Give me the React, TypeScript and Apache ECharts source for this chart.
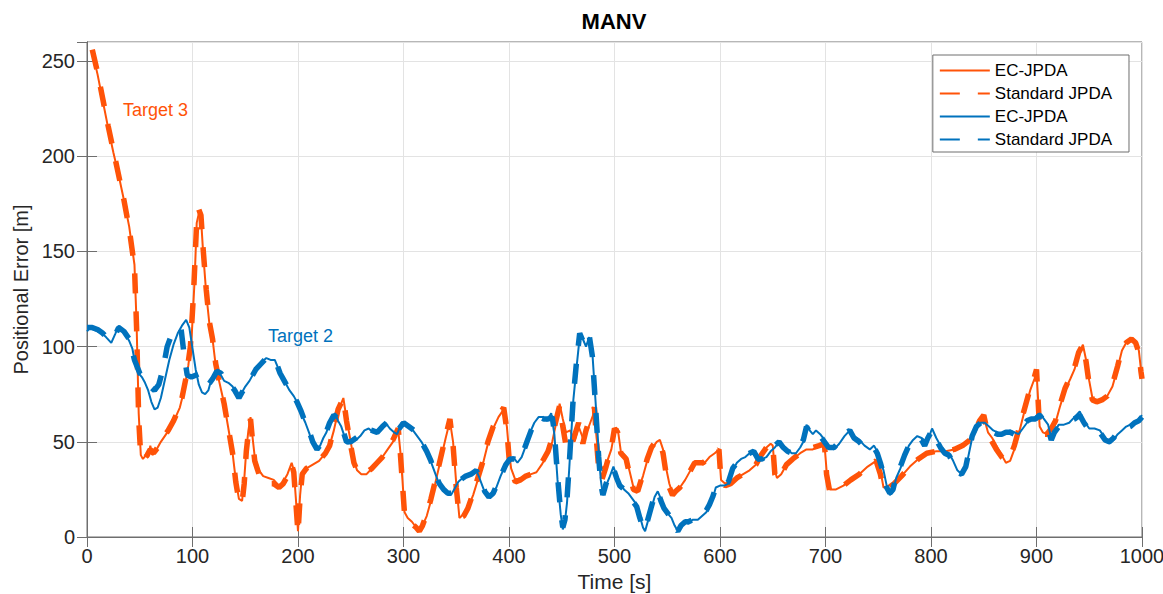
import React, { useEffect, useRef } from "react";
import * as echarts from "echarts";

// ---- Data (time [s], positional error [m]) ----
const target3Ec: [number, number][] = [
  [5, 255], [10, 243], [15, 229], [20, 215], [25, 202], [30, 190], [35, 177], [40, 163], [45, 143], [47, 112],
  [49, 65], [51, 43], [53, 41], [56, 43], [58, 42], [60, 48], [62, 43], [65, 45], [70, 50], [75, 54],
  [80, 58], [84, 63], [88, 68], [92, 77], [96, 90], [99, 103], [102, 135], [104, 165], [106, 170], [108, 168],
  [110, 150], [113, 128], [116, 112], [119, 104], [122, 90], [126, 80], [130, 70], [134, 57], [138, 44], [141, 30],
  [144, 20], [147, 19], [149, 30], [151, 46], [153, 56], [155, 63], [157, 52], [159, 42], [163, 35], [167, 32],
  [172, 31], [177, 30], [182, 27], [186, 29], [190, 33], [194, 39], [196, 35], [198, 20], [200, 3], [202, 22],
  [204, 34], [208, 36], [214, 38], [220, 40], [226, 44], [230, 48], [234, 56], [238, 66], [243, 73], [246, 62],
  [250, 50], [253, 40], [256, 35], [260, 33], [265, 33], [270, 36], [275, 39], [280, 42], [285, 46], [290, 50],
  [295, 56], [297, 45], [299, 30], [301, 13], [304, 10], [308, 8], [312, 5], [315, 3], [318, 6], [322, 11],
  [326, 19], [330, 28], [335, 40], [340, 52], [344, 61], [347, 50], [350, 28], [353, 10], [357, 12], [361, 15],
  [366, 22], [371, 31], [376, 40], [380, 49], [385, 57], [390, 63], [395, 67], [398, 58], [400, 45], [402, 36],
  [406, 30], [411, 31], [416, 32], [421, 33], [426, 34], [431, 38], [437, 44], [441, 50], [444, 58], [448, 70],
  [451, 62], [454, 55], [458, 56], [462, 50], [466, 58], [470, 52], [473, 54], [477, 60], [481, 66], [483, 52],
  [485, 42], [488, 36], [492, 38], [497, 46], [500, 55], [503, 57], [506, 45], [511, 42], [515, 33], [518, 26],
  [522, 24], [527, 32], [531, 40], [535, 46], [540, 50], [543, 51], [546, 46], [549, 36], [552, 28], [555, 23],
  [558, 24], [562, 26], [567, 30], [572, 35], [576, 39], [580, 39], [584, 38], [590, 42], [595, 44], [599, 46],
  [601, 30], [605, 28], [610, 29], [616, 31], [622, 33], [628, 35], [634, 38], [639, 43], [644, 47], [648, 49],
  [650, 48], [652, 35], [654, 31], [658, 33], [663, 38], [669, 41], [676, 44], [682, 46], [688, 46], [694, 48],
  [699, 49], [701, 35], [704, 25], [710, 25], [717, 27], [724, 30], [732, 33], [740, 37], [748, 40], [752, 35],
  [755, 26], [760, 27], [765, 28], [772, 32], [780, 37], [788, 41], [796, 44], [805, 45], [814, 45], [822, 46],
  [830, 48], [837, 51], [842, 55], [846, 60], [850, 63], [854, 55], [858, 52], [862, 48], [867, 43], [871, 39],
  [875, 40], [879, 46], [884, 56], [889, 67], [894, 77], [898, 83], [900, 87], [903, 58], [906, 55], [910, 54],
  [914, 57], [918, 60], [922, 68], [927, 77], [932, 83], [936, 88], [940, 96], [944, 101], [947, 93], [950, 82],
  [953, 73], [957, 72], [962, 72], [967, 74], [972, 79], [977, 89], [981, 98], [985, 102], [990, 103], [994, 102],
  [997, 98], [999, 88], [1000, 84],
];

const target3Std: [number, number][] = [
  [5, 256], [10, 244], [15, 230], [20, 216], [25, 203], [30, 190], [35, 177], [40, 162], [45, 142], [47, 110],
  [49, 62], [51, 42], [54, 41], [57, 43], [60, 46], [63, 44], [67, 47], [72, 52], [77, 56], [82, 61],
  [86, 66], [90, 73], [94, 84], [98, 100], [101, 128], [104, 166], [106, 172], [108, 169], [110, 152], [113, 130],
  [116, 113], [119, 104], [122, 91], [126, 80], [130, 70], [134, 57], [138, 44], [141, 29], [144, 19], [147, 18],
  [149, 28], [151, 45], [153, 55], [155, 62], [157, 50], [159, 40], [163, 33], [167, 29], [172, 28], [177, 28],
  [182, 26], [186, 28], [190, 32], [194, 38], [196, 34], [198, 18], [200, 2], [202, 21], [204, 33], [208, 36],
  [214, 38], [220, 40], [226, 44], [230, 48], [234, 57], [238, 67], [243, 73], [246, 61], [250, 48], [253, 39],
  [256, 35], [260, 33], [265, 34], [270, 36], [275, 39], [280, 42], [285, 46], [290, 51], [295, 57], [297, 44],
  [299, 28], [301, 12], [304, 9], [308, 7], [312, 5], [315, 3], [318, 6], [322, 12], [326, 20], [330, 29],
  [335, 41], [340, 53], [344, 62], [347, 48], [350, 26], [353, 10], [357, 11], [361, 15], [366, 23], [371, 32],
  [376, 41], [380, 50], [385, 58], [390, 64], [395, 68], [398, 56], [400, 42], [402, 34], [406, 29], [411, 30],
  [416, 32], [421, 33], [426, 35], [431, 39], [437, 45], [441, 52], [444, 60], [448, 69], [451, 58], [454, 48],
  [458, 46], [462, 53], [466, 60], [470, 49], [473, 56], [477, 63], [481, 68], [483, 50], [485, 36], [488, 30],
  [492, 37], [497, 47], [500, 57], [503, 55], [506, 44], [511, 41], [515, 31], [518, 25], [522, 24], [527, 33],
  [531, 41], [535, 47], [540, 51], [543, 50], [546, 44], [549, 33], [552, 26], [555, 22], [558, 24], [562, 26],
  [567, 30], [572, 35], [576, 39], [580, 39], [584, 39], [590, 42], [595, 44], [599, 46], [601, 29], [605, 27],
  [610, 28], [616, 31], [622, 33], [628, 35], [634, 38], [639, 43], [644, 47], [648, 49], [650, 48], [652, 33],
  [654, 30], [658, 33], [663, 38], [669, 41], [676, 44], [682, 46], [688, 47], [694, 48], [699, 49], [701, 33],
  [704, 24], [710, 25], [717, 27], [724, 30], [732, 33], [740, 37], [748, 40], [752, 33], [755, 25], [760, 26],
  [765, 28], [772, 32], [780, 37], [788, 41], [796, 44], [805, 45], [814, 45], [822, 46], [830, 48], [837, 51],
  [842, 56], [846, 61], [850, 64], [854, 54], [858, 50], [862, 46], [867, 42], [871, 40], [875, 42], [879, 48],
  [884, 58], [889, 68], [894, 78], [898, 84], [900, 88], [903, 56], [906, 54], [910, 54], [914, 57], [918, 61],
  [922, 69], [927, 78], [932, 84], [936, 89], [940, 97], [944, 101], [947, 92], [950, 80], [953, 72], [957, 71],
  [962, 72], [967, 74], [972, 80], [977, 90], [981, 99], [985, 102], [990, 104], [994, 102], [997, 97], [999, 87],
  [1000, 83],
];

const target2Ec: [number, number][] = [
  [0, 108], [3, 110], [6, 109], [10, 108], [14, 107], [18, 105], [23, 102], [27, 107], [30, 111], [33, 109],
  [36, 107], [40, 103], [43, 99], [46, 90], [49, 86], [52, 84], [55, 81], [58, 77], [61, 71], [64, 67],
  [67, 68], [70, 73], [74, 83], [78, 93], [82, 101], [86, 107], [90, 111], [94, 114], [97, 110], [100, 99],
  [103, 88], [106, 80], [109, 76], [112, 75], [115, 77], [118, 83], [121, 86], [124, 88], [127, 85], [130, 82],
  [134, 81], [138, 79], [141, 76], [144, 73], [147, 76], [150, 79], [154, 82], [158, 86], [162, 89], [166, 92],
  [170, 94], [174, 93], [178, 93], [181, 89], [184, 84], [188, 81], [192, 77], [196, 74], [200, 70], [203, 65],
  [207, 60], [211, 54], [214, 49], [218, 46], [221, 48], [224, 52], [227, 55], [230, 60], [233, 63], [235, 65],
  [238, 61], [241, 58], [244, 53], [247, 49], [251, 50], [255, 51], [259, 53], [263, 56], [267, 57], [271, 55],
  [275, 55], [279, 58], [283, 60], [287, 57], [291, 55], [294, 54], [298, 60], [301, 60], [305, 58], [309, 56],
  [313, 53], [317, 50], [321, 46], [325, 41], [329, 35], [333, 29], [337, 25], [341, 23], [345, 22], [348, 25],
  [352, 29], [356, 31], [361, 32], [365, 34], [369, 35], [372, 31], [376, 25], [380, 21], [384, 22], [388, 26],
  [392, 32], [396, 37], [400, 40], [404, 42], [408, 39], [412, 42], [416, 48], [420, 55], [424, 60], [428, 63],
  [432, 63], [436, 61], [440, 65], [443, 54], [446, 30], [449, 12], [451, 4], [453, 8], [455, 18], [457, 35],
  [459, 54], [461, 72], [464, 89], [467, 105], [470, 104], [473, 100], [476, 105], [479, 97], [481, 80], [483, 63],
  [485, 45], [487, 30], [489, 22], [492, 27], [495, 31], [499, 37], [502, 32], [505, 28], [509, 25], [513, 23],
  [517, 20], [521, 17], [524, 11], [527, 5], [529, 3], [532, 9], [535, 15], [538, 21], [541, 24], [544, 20],
  [547, 16], [551, 12], [554, 10], [557, 6], [560, 3], [563, 5], [567, 8], [570, 7], [574, 9], [579, 9],
  [583, 11], [587, 13], [590, 16], [593, 20], [596, 26], [600, 27], [604, 27], [608, 28], [612, 35], [616, 39],
  [620, 41], [624, 42], [628, 44], [632, 45], [636, 40], [640, 41], [644, 42], [648, 45], [652, 47], [656, 50],
  [660, 48], [664, 46], [668, 44], [672, 44], [676, 47], [679, 50], [682, 59], [685, 56], [688, 54], [691, 56],
  [695, 54], [699, 51], [703, 47], [708, 46], [713, 49], [718, 53], [723, 56], [727, 53], [732, 51], [737, 48],
  [742, 46], [746, 48], [749, 45], [752, 40], [755, 35], [758, 27], [761, 22], [764, 24], [767, 31], [771, 36],
  [775, 42], [779, 48], [783, 51], [787, 53], [791, 52], [794, 48], [797, 51], [801, 57], [805, 52], [809, 48],
  [813, 45], [817, 44], [821, 40], [825, 35], [829, 33], [833, 36], [836, 44], [839, 52], [843, 57], [847, 60],
  [851, 60], [855, 58], [859, 56], [863, 55], [867, 54], [871, 55], [875, 56], [879, 55], [883, 54], [887, 57],
  [891, 60], [895, 62], [899, 63], [903, 65], [907, 62], [911, 59], [914, 52], [917, 55], [921, 59], [926, 59],
  [931, 60], [936, 63], [941, 66], [945, 61], [950, 57], [955, 57], [960, 56], [965, 52], [969, 49], [973, 51],
  [977, 54], [981, 56], [985, 58], [989, 59], [993, 60], [997, 62], [1000, 64],
];

const target2Std: [number, number][] = [
  [0, 110], [5, 110], [10, 109], [15, 107], [20, 104], [25, 104], [30, 110], [35, 108], [40, 104], [45, 93],
  [50, 86], [55, 83], [60, 79], [64, 77], [68, 80], [72, 88], [76, 100], [80, 106], [85, 108], [89, 110],
  [92, 96], [95, 85], [99, 84], [103, 85], [107, 86], [111, 84], [115, 80], [119, 83], [123, 87], [127, 86],
  [131, 82], [136, 80], [140, 77], [144, 73], [148, 77], [152, 80], [156, 84], [160, 88], [165, 91], [170, 94],
  [175, 93], [179, 92], [183, 86], [187, 82], [191, 78], [195, 75], [199, 71], [203, 66], [207, 60], [211, 55],
  [214, 50], [218, 46], [222, 49], [226, 54], [230, 60], [234, 64], [238, 62], [242, 57], [246, 50], [250, 50],
  [255, 52], [260, 54], [265, 57], [270, 56], [275, 55], [280, 58], [284, 60], [288, 57], [292, 55], [296, 57],
  [300, 60], [305, 58], [310, 56], [314, 52], [318, 49], [322, 45], [326, 40], [330, 33], [334, 28], [338, 25],
  [342, 23], [346, 23], [350, 27], [354, 30], [359, 32], [364, 33], [369, 35], [373, 30], [377, 24], [381, 21],
  [385, 23], [389, 28], [393, 33], [397, 38], [401, 41], [405, 41], [409, 40], [413, 44], [417, 50], [421, 56],
  [425, 61], [429, 63], [433, 62], [437, 62], [441, 63], [443, 55], [446, 32], [449, 13], [451, 5], [453, 9],
  [455, 20], [457, 37], [459, 56], [461, 74], [464, 92], [467, 107], [470, 103], [473, 101], [476, 106], [479, 95],
  [481, 78], [483, 60], [485, 42], [487, 28], [489, 22], [492, 28], [495, 32], [499, 36], [502, 31], [505, 27],
  [509, 25], [513, 22], [517, 19], [521, 16], [524, 10], [527, 5], [529, 4], [532, 10], [535, 16], [538, 22],
  [541, 24], [544, 19], [547, 15], [551, 12], [554, 9], [557, 5], [560, 3], [563, 6], [567, 8], [570, 8],
  [574, 9], [579, 10], [583, 11], [587, 14], [590, 17], [593, 21], [596, 26], [600, 27], [604, 27], [608, 29],
  [612, 36], [616, 39], [620, 41], [624, 43], [628, 44], [632, 45], [636, 41], [640, 41], [644, 43], [648, 45],
  [652, 48], [656, 50], [660, 47], [664, 45], [668, 44], [672, 45], [676, 48], [679, 51], [682, 58], [685, 55],
  [688, 54], [691, 55], [695, 53], [699, 50], [703, 47], [708, 47], [713, 50], [718, 54], [723, 56], [727, 52],
  [732, 50], [737, 47], [742, 46], [746, 47], [749, 44], [752, 39], [755, 33], [758, 26], [761, 23], [764, 25],
  [767, 32], [771, 37], [775, 43], [779, 48], [783, 51], [787, 52], [791, 51], [794, 48], [797, 52], [801, 56],
  [805, 51], [809, 47], [813, 44], [817, 43], [821, 39], [825, 34], [829, 33], [833, 37], [836, 45], [839, 53],
  [843, 58], [847, 60], [851, 59], [855, 57], [859, 55], [863, 54], [867, 54], [871, 55], [875, 55], [879, 54],
  [883, 55], [887, 58], [891, 61], [895, 62], [899, 62], [903, 64], [907, 61], [911, 57], [914, 51], [917, 55],
  [921, 58], [926, 60], [931, 61], [936, 62], [941, 64], [945, 60], [950, 56], [955, 56], [960, 55], [965, 51],
  [969, 50], [973, 52], [977, 55], [981, 56], [985, 57], [989, 58], [993, 60], [997, 61], [1000, 63],
];

const xTicks = { min: 0, max: 1000, interval: 100 };
const yTicks = { min: 0, max: 260, interval: 50 };
const legendNames = ["EC-JPDA", "Standard JPDA", "EC-JPDA", "Standard JPDA"];
const chartTitle = "MANV";
const xLabel = "Time [s]";
const yLabel = "Positional Error [m]";
const annotations = ["Target 3", "Target 2"];

const ORANGE = "#FF5308";
const BLUE = "#0072BD";
const FONT = "'Liberation Sans', Arial, Helvetica, sans-serif";
const AXIS_COLOR = "#6e6e6e";
const GRID_COLOR = "#e3e3e3";

export default function App() {
  const ref = useRef<HTMLDivElement>(null);

  useEffect(() => {
    if (!ref.current) return;
    const chart = echarts.init(ref.current, null, { renderer: "svg" });

    const baseX = {
      type: "value",
      min: xTicks.min,
      max: xTicks.max,
      interval: xTicks.interval,
    };
    const baseY = {
      type: "value",
      min: yTicks.min,
      max: yTicks.max,
      interval: yTicks.interval,
    };

    const dashed = [20, 18];
    const mk = (i: number, data: [number, number][], color: string, isDash: boolean) => ({
      type: "line",
      name: legendNames[i] + "#" + i,
      data,
      xAxisIndex: 0,
      yAxisIndex: 0,
      symbol: "none",
      showSymbol: false,
      smooth: false,
      color,
      lineStyle: {
        color,
        width: isDash ? 5.5 : 2,
        type: isDash ? dashed : "solid",
        cap: "butt",
      },
      itemStyle: { color },
      emphasis: { disabled: true },
      z: 2 + i,
    });

    chart.setOption({
      animation: false,
      title: {
        text: chartTitle,
        left: 614,
        top: 10,
        padding: 0,
        textAlign: "center",
        textStyle: { fontFamily: FONT, fontSize: 22, fontWeight: "bold", color: "#000" },
      },
      grid: {
        left: 87,
        right: 21,
        top: 42,
        bottom: 57,
        show: true,
        borderColor: AXIS_COLOR,
        borderWidth: 1,
        backgroundColor: "#fff",
        outerBoundsMode: "none",
        containLabel: false,
      },
      legend: {
        orient: "vertical",
        right: 34,
        top: 55,
        backgroundColor: "#fff",
        borderColor: AXIS_COLOR,
        borderWidth: 1,
        padding: [7, 17, 4, 6],
        itemWidth: 50,
        itemHeight: 14,
        itemGap: 6,
        itemStyle: { opacity: 0 },
        textStyle: { fontFamily: FONT, fontSize: 17, color: "#000" },
        formatter: (name: string) => name.split("#")[0],
        selectedMode: false,
        data: legendNames.map((n, i) => n + "#" + i),
      },
      xAxis: [
        {
          ...baseX,
          position: "bottom",
          name: xLabel,
          nameLocation: "middle",
          nameGap: 32,
          nameTextStyle: { fontFamily: FONT, fontSize: 21, color: "#262626" },
          axisLine: { show: true, lineStyle: { color: AXIS_COLOR, width: 1 } },
          axisTick: { show: true, inside: true, length: 10, lineStyle: { color: AXIS_COLOR } },
          axisLabel: {
            fontFamily: FONT,
            fontSize: 20,
            color: "#262626",
            margin: 9,
            formatter: (v: number) => String(v),
          },
          splitLine: { show: true, lineStyle: { color: GRID_COLOR, width: 1 } },
        },
        {
          ...baseX,
          position: "top",
          axisLine: { show: true, lineStyle: { color: AXIS_COLOR, width: 1 } },
          axisTick: { show: true, inside: true, length: 10, lineStyle: { color: AXIS_COLOR } },
          axisLabel: { show: false },
          splitLine: { show: false },
        },
      ],
      yAxis: [
        {
          ...baseY,
          position: "left",
          name: yLabel,
          nameLocation: "middle",
          nameGap: 54,
          nameTextStyle: { fontFamily: FONT, fontSize: 20, color: "#262626" },
          axisLine: { show: true, lineStyle: { color: AXIS_COLOR, width: 1 } },
          axisTick: { show: true, inside: true, length: 10, lineStyle: { color: AXIS_COLOR } },
          axisLabel: {
            fontFamily: FONT,
            fontSize: 20,
            color: "#262626",
            margin: 12,
            showMaxLabel: false,
            formatter: (v: number) => String(v),
          },
          splitLine: { show: true, lineStyle: { color: GRID_COLOR, width: 1 } },
        },
        {
          ...baseY,
          position: "right",
          axisLine: { show: true, lineStyle: { color: AXIS_COLOR, width: 1 } },
          axisTick: { show: true, inside: true, length: 10, lineStyle: { color: AXIS_COLOR } },
          axisLabel: { show: false },
          splitLine: { show: false },
        },
      ],
      series: [
        mk(0, target3Ec, ORANGE, false),
        mk(1, target3Std, ORANGE, true),
        mk(2, target2Ec, BLUE, false),
        mk(3, target2Std, BLUE, true),
      ],
      graphic: [
        {
          type: "text",
          left: 123,
          top: 101,
          style: { text: annotations[0], fill: ORANGE, font: `18px ${FONT}` },
          z: 100,
        },
        {
          type: "text",
          left: 268,
          top: 327,
          style: { text: annotations[1], fill: BLUE, font: `18px ${FONT}` },
          z: 100,
        },
      ],
    });

    return () => chart.dispose();
  }, []);

  return (
    <div
      ref={ref}
      style={{ position: "fixed", left: 0, top: 0, width: 1163, height: 594, background: "#fff" }}
    />
  );
}
